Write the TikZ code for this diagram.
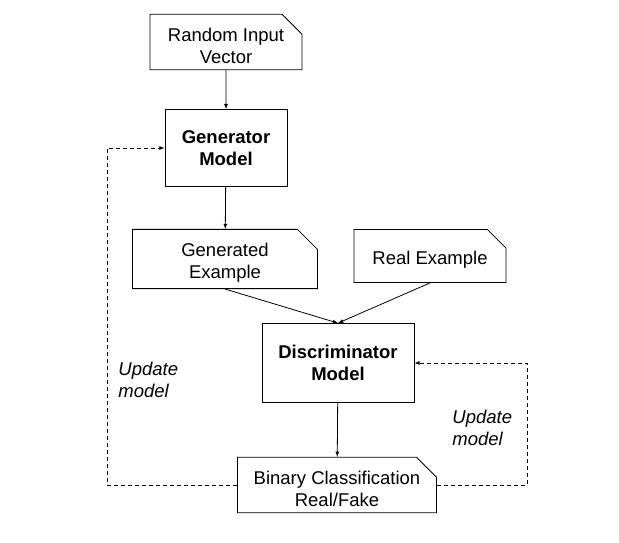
\documentclass[tikz,border=0pt]{standalone}
\usepackage{fontspec}
\setmainfont{Liberation Sans}
\usetikzlibrary{arrows, shapes, positioning}

% text line set 4pt lower, size unchanged
\newcommand{\dline}[1]{\raisebox{-4pt}[\height][\depth]{#1}}

\tikzset{
  data/.style={draw, chamfered rectangle, chamfered rectangle corners=north east,
    chamfered rectangle xsep=10pt, chamfered rectangle ysep=10pt, align=center, inner sep=0pt},
  model/.style={draw, rectangle, align=center, inner sep=0pt, font=\fontsize{18.5}{22}\selectfont\bfseries},
  loop/.style={->, dashed, dash pattern=on 4pt off 3pt},
  note/.style={align=left, inner sep=0pt, font=\fontsize{18.5}{22}\selectfont\itshape}
}

\begin{document}
\begin{tikzpicture}[x=1pt,y=-1pt,->,>=latex,line width=0.8pt,font=\fontsize{18.5}{22}\selectfont]
	\useasboundingbox (0,0) rectangle (619,542);
	
	\node[data, minimum width=152pt, minimum height=52pt] (rnd) at (226,42) {\dline{Random Input}\\\dline{Vector}};
	\node[model, minimum width=122pt, minimum height=77pt] (gen) at (226,148) {Generator\\Model};
	\node[data, minimum width=185pt, minimum height=58pt] (gex) at (225,259) {\dline{Generated}\\\dline{Example}};
	\node[data, minimum width=152pt, minimum height=53pt] (rex) at (430,256) {\dline{Real Example}};
	\node[model, minimum width=152pt, minimum height=79pt] (dis) at (338,363) {Discriminator\\Model};
	\node[data, minimum width=199pt, minimum height=54pt] (bin) at (337,485) {\dline{Binary Classification}\\\dline{Real/Fake}};
	
	\path (rnd) edge (gen);
	\path (gen) edge (gex);
	\path (gex.south) edge (dis.north);
	\path (rex.south) edge (dis.north);
	\path (dis) edge (bin);
	
	% update loops
	\draw[loop] (bin.west) -- ++(-130,0) |- (gen.west);
	\draw[loop] (bin.east) -- ++(90,0) |- (dis.east);
	
	\node[note, anchor=west] (updg) at (118,380) {Update\\model};
	\node[note, anchor=west] (updd) at (452,428) {Update\\model};
	
\end{tikzpicture}
\end{document}
